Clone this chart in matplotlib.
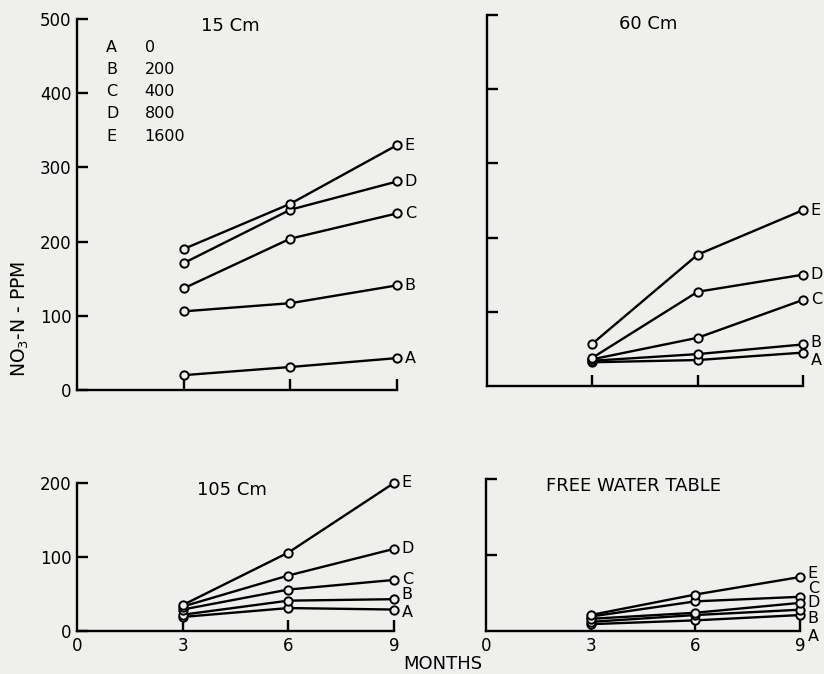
import matplotlib.pyplot as plt

months = [3, 6, 9]
letters = ['A', 'B', 'C', 'D', 'E']
rates = ['0', '200', '400', '800', '1600']

# NO3-N ppm, one list per treatment A..E
cm15 = [[20, 31, 43], [106, 117, 141], [137, 204, 238], [171, 243, 281], [190, 251, 330]]
cm60 = [[32, 35, 45], [34, 43, 56], [36, 65, 116], [38, 127, 150], [57, 177, 237]]
cm105 = [[19, 31, 29], [22, 41, 43], [29, 56, 69], [33, 75, 111], [35, 106, 200]]
fwt = [[9, 14, 21], [12, 21, 28], [19, 39, 45], [16, 24, 37], [21, 48, 71]]

# where the end letters sit (y, data units) where lines crowd
lab60 = [34, 58, 116, 150, 237]
lab105 = [25, 49, 69, 111, 200]
labfwt = [-7, 16, 56, 37, 75]

bg = '#efefed'
W, H = 824, 674
fig = plt.figure(figsize=(W / 100, H / 100), dpi=100, facecolor=bg)


def px_axes(x0, x9, y0, ytop):
    # axes spanning 0..9 months in x, pixel coords of the reference
    return fig.add_axes([x0 / W, 1 - y0 / H, (x9 - x0) / W, (y0 - ytop) / H])


def panel(ax, data, ymax, yticks, ylabels, xlabels, labpos):
    ax.set_facecolor('none')
    for d in data:
        ax.plot(months, d, color='black', lw=1.7, marker='o', ms=6,
                mfc=bg, mec='black', mew=1.4, clip_on=False, zorder=3)
    for i, d in enumerate(data):
        y = labpos[i] if labpos is not None else d[-1]
        ax.text(9.22, y, letters[i], fontsize=11.5, ha='left', va='center')
    ax.set_xlim(0, 9)
    ax.set_ylim(0, ymax)
    for s in ['top', 'right']:
        ax.spines[s].set_visible(False)
    for s in ['left', 'bottom']:
        ax.spines[s].set_linewidth(1.7)
    ax.set_xticks(months)
    ax.set_yticks(yticks)
    ax.tick_params(direction='in', length=8, width=1.7, labelsize=12, pad=4)
    if xlabels:
        ax.set_xticks([0] + months)
        ax.set_xticklabels(['0', '3', '6', '9'])
        ax.xaxis.get_major_ticks()[0].tick1line.set_visible(False)
    else:
        ax.set_xticklabels([])
    if ylabels:
        ax.set_yticklabels([str(v) for v in yticks])
    else:
        ax.set_yticklabels([])


ax1 = px_axes(77, 397, 390, 19)
panel(ax1, cm15, 500, [0, 100, 200, 300, 400, 500], True, False, None)
ax2 = px_axes(487, 803, 386, 15)
panel(ax2, cm60, 500, [100, 200, 300, 400, 500], False, False, lab60)
ax3 = px_axes(77, 394, 631, 483)
panel(ax3, cm105, 200, [0, 100, 200], True, True, lab105)
ax4 = px_axes(486, 800, 631, 479)
panel(ax4, fwt, 200, [100, 200], False, True, labfwt)

# legend block in the 15 cm panel
for i, (l, r) in enumerate(zip(letters, rates)):
    y = 462 - i * 30
    ax1.text(0.82, y, l, fontsize=11.5, va='center', ha='left')
    ax1.text(1.9, y, r, fontsize=11.5, va='center', ha='left')

fig.text(230 / W, 1 - 26 / H, '15 Cm', fontsize=13, ha='center', va='center')
fig.text(648 / W, 1 - 24 / H, '60 Cm', fontsize=13, ha='center', va='center')
fig.text(232 / W, 1 - 490 / H, '105 Cm', fontsize=13, ha='center', va='center')
fig.text(633 / W, 1 - 486 / H, 'FREE WATER TABLE', fontsize=13, ha='center', va='center')
fig.text(443 / W, 1 - 664 / H, 'MONTHS', fontsize=13, ha='center', va='center')
fig.text(20 / W, 1 - 319 / H, 'NO$_3$-N - PPM', fontsize=13.5, rotation=90,
         ha='center', va='center')

fig.savefig('out.png', dpi=100, facecolor=bg)
